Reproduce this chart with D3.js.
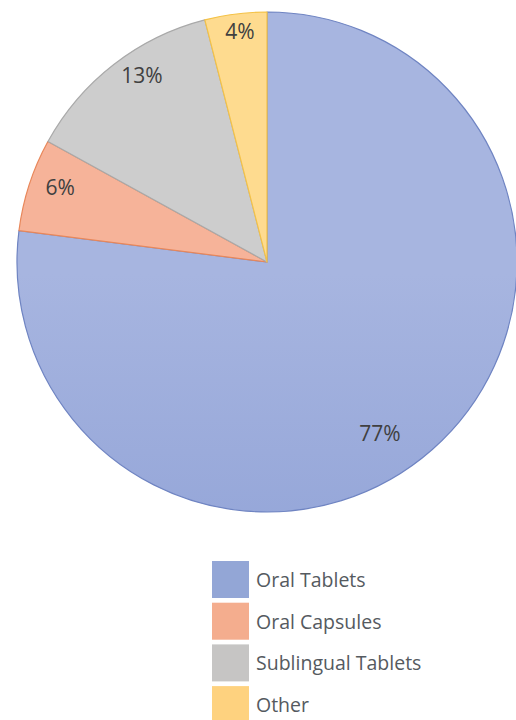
<!DOCTYPE html>
<html>
<head>
<meta charset="utf-8">
<script src="https://cdn.jsdelivr.net/npm/d3@7"></script>
<style>
  html, body { margin: 0; padding: 0; background: #ffffff; }
  svg { display: block; font-family: "Open Sans", "Noto Sans", sans-serif; }
</style>
</head>
<body>
<svg id="chart" width="516" height="720"></svg>
<script>
// Dosage form shares (%)
const categories = ["Oral Tablets", "Oral Capsules", "Sublingual Tablets", "Other"];
const shares = [77, 6, 13, 4];
const valueLabels = ["77%", "6%", "13%", "4%"];

// Fill colours: light (top) and dark (bottom) stops, plus legend swatch and outline
const lightColors = ["#a7b5e0", "#f6b399", "#cdcdcd", "#fedb8f"];
const darkColors  = ["#8599d2", "#f2a682", "#c3c3c3", "#fdd07c"];
const swatchColors = ["#93a6d6", "#f4ad8e", "#c6c5c4", "#fed27f"];
const strokeColors = ["#6f84c2", "#e8875a", "#a9a9a9", "#f4c247"];

const svg = d3.select("#chart");
const cx = 267, cy = 262, R = 250;

const defs = svg.append("defs");
categories.forEach((c, i) => {
  const g = defs.append("linearGradient")
    .attr("id", "grad" + i)
    .attr("gradientUnits", "userSpaceOnUse")
    .attr("x1", 0).attr("y1", cy - R)
    .attr("x2", 0).attr("y2", cy + R);
  g.append("stop").attr("offset", "0%").attr("stop-color", lightColors[i]);
  g.append("stop").attr("offset", "100%").attr("stop-color", darkColors[i]);
});

const data = categories.map((c, i) => ({ name: c, value: shares[i], label: valueLabels[i], i }));

const pie = d3.pie().value(d => d.value).sort(null);
const arcs = pie(data);
const arc = d3.arc().innerRadius(0).outerRadius(R);

const g = svg.append("g").attr("transform", `translate(${cx},${cy})`);

g.selectAll("path.slice")
  .data(arcs)
  .join("path")
  .attr("class", "slice")
  .attr("d", arc)
  .attr("fill", d => `url(#grad${d.data.i})`)
  .attr("stroke", d => strokeColors[d.data.i])
  .attr("stroke-width", 1.2)
  .attr("stroke-linejoin", "round");

// Label placement: radius fraction and angular shift (degrees) per slice
const labelRadius = [0.82, 0.88, 0.9, 0.93];
const labelShift = [8, 2, 4, 0.5];

function labelPos(d) {
  const a = (d.startAngle + d.endAngle) / 2 + labelShift[d.data.i] * Math.PI / 180;
  const r = R * labelRadius[d.data.i];
  return [Math.sin(a) * r, -Math.cos(a) * r];
}

g.selectAll("text.val")
  .data(arcs)
  .join("text")
  .attr("class", "val")
  .attr("x", d => labelPos(d)[0])
  .attr("y", d => labelPos(d)[1])
  .attr("text-anchor", "middle")
  .attr("dominant-baseline", "central")
  .attr("font-size", 21)
  .attr("fill", "#404040")
  .text(d => d.data.label);

// Legend
const legend = svg.append("g").attr("transform", "translate(212,561)");
const row = legend.selectAll("g")
  .data(data)
  .join("g")
  .attr("transform", (d, i) => `translate(0,${i * 41.7})`);

row.append("rect")
  .attr("width", 37)
  .attr("height", 37)
  .attr("fill", d => swatchColors[d.i]);

row.append("text")
  .attr("x", 44)
  .attr("y", 18.5)
  .attr("dominant-baseline", "central")
  .attr("font-size", 19.5)
  .attr("fill", "#555a60")
  .text(d => d.name);
</script>
</body>
</html>
